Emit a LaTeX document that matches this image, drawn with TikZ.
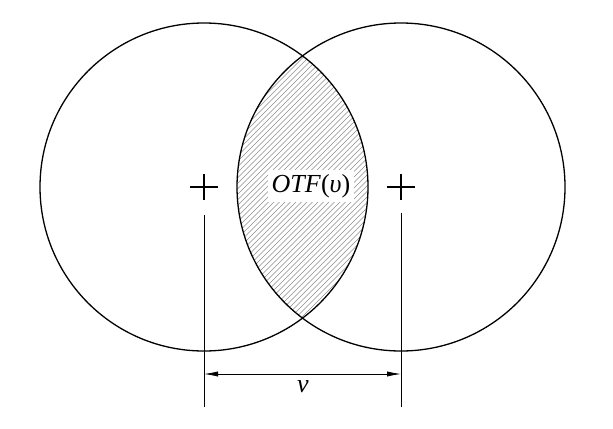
\documentclass[tikz,border=0pt]{standalone}
\usepackage{fontspec}
\setmainfont{Liberation Serif}
\usetikzlibrary{arrows.meta}
\begin{document}
\begin{tikzpicture}[x=0.5pt,y=-0.5pt,
  circ/.style={line width=0.65pt},
  dimline/.style={line width=0.4pt},
  crossline/.style={line width=0.6pt},
  hatch/.style={black!45, line width=0.3pt},
  dimarrow/.style={dimline, {Latex[length=7pt,width=2.6pt]}-{Latex[length=7pt,width=2.6pt]}}]
\useasboundingbox (0,0) rectangle (613,428);
\coordinate (c1) at (204,187);
\coordinate (c2) at (401,187);
% hatching of the lens
\begin{scope}
  \clip (c1) circle[radius=164];
  \clip (c2) circle[radius=164];
  \foreach \a in {-115,-109.5,...,380} {
    \draw[hatch] (\a,360) -- ++(340,-340);
  }
\end{scope}
% circles
\draw[circ] (c1) circle[radius=164];
\draw[circ] (c2) circle[radius=164];
% label
\node[fill=white, inner sep=2pt, font=\fontsize{13}{15}\selectfont] (otf) at (311,186) {\textit{OTF}(\textit{υ})};
% crosses
\draw[crossline] (c1) ++(-14,0) -- ++(28,0);
\draw[crossline] (c1) ++(0,-13) -- ++(0,26);
\draw[crossline] (c2) ++(-14,0) -- ++(28,0);
\draw[crossline] (c2) ++(0,-13) -- ++(0,26);
% dimension lines
\coordinate (l1t) at (204,215);
\coordinate (l1b) at (204,407);
\coordinate (l2t) at (401,213);
\coordinate (l2b) at (401,407);
\draw[dimline] (l1t) -- (l1b);
\draw[dimline] (l2t) -- (l2b);
\coordinate (a1) at (204,374);
\coordinate (a2) at (401,374);
\draw[dimarrow] (a1) -- (a2);
\node[font=\fontsize{13}{15}\selectfont] (nu) at (303,387) {\textit{ν}};
\end{tikzpicture}
\end{document}
